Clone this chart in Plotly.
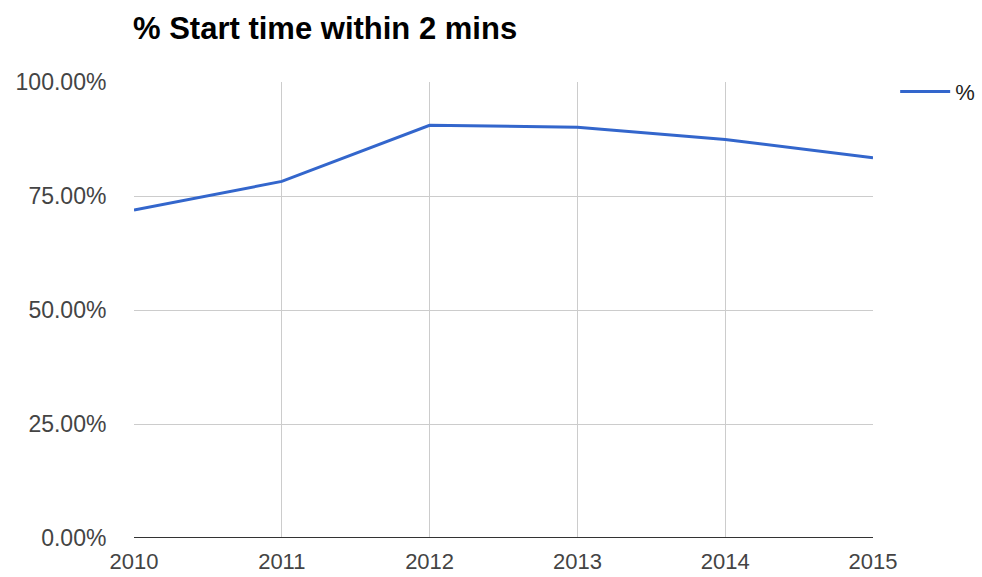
import plotly.graph_objects as go

years = [2010, 2011, 2012, 2013, 2014, 2015]
pct_within_2min = [0.719, 0.782, 0.905, 0.901, 0.874, 0.834]
y_ticks = [0, 0.25, 0.5, 0.75, 1.0]

fig = go.Figure()
fig.add_trace(go.Scatter(
    x=years, y=pct_within_2min, mode="lines", name="%",
    line=dict(color="#3366cc", width=3),
))

fig.update_layout(
    width=982, height=577,
    margin=dict(l=134, r=109, t=82, b=39, autoexpand=False),
    paper_bgcolor="white", plot_bgcolor="white",
    font=dict(family="Liberation Sans, Arial, sans-serif", size=22, color="#444444"),
    title=dict(text="<b>% Start time within 2 mins</b>", x=133 / 982, xref="container",
               xanchor="left", y=1 - 28 / 577, yref="container", yanchor="middle",
               font=dict(size=31, color="#000000")),
    showlegend=True,
    legend=dict(x=1.03, y=1.025, xanchor="left", yanchor="top", itemwidth=50,
                font=dict(size=22, color="#222222"), bgcolor="rgba(0,0,0,0)"),
    xaxis=dict(range=[2010, 2015], tickvals=years, ticktext=[str(y) for y in years],
               showgrid=True, gridcolor="#cccccc", gridwidth=1,
               zeroline=False, showline=False, ticks="outside", ticklen=4,
               tickcolor="rgba(0,0,0,0)", tickfont=dict(size=22)),
    yaxis=dict(range=[0, 1.0], tickvals=y_ticks, tickformat=".2%",
               showgrid=True, gridcolor="#cccccc", gridwidth=1,
               zeroline=False, showline=False, ticks="outside", ticklen=22,
               tickcolor="rgba(0,0,0,0)", tickfont=dict(size=23)),
)

# dark baseline along the 0% level
fig.add_shape(type="line", xref="paper", yref="y", x0=0, x1=1, y0=0, y1=0,
              line=dict(color="#333333", width=2), layer="above")

fig.write_html("out.html")
